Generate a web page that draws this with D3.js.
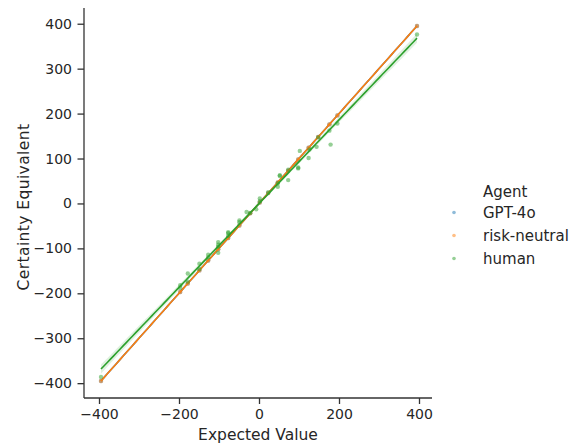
<!DOCTYPE html>
<html>
<head>
<meta charset="utf-8">
<script src="https://cdn.jsdelivr.net/npm/d3@7"></script>
<style>
  body { margin: 0; background: #fff; }
  svg text { font-family: "DejaVu Sans", sans-serif; fill: #262626; }
</style>
</head>
<body>
<div id="chart"></div>
<script>
// expected value levels of the lotteries
const evLevels = [-395, -197, -178, -149, -127, -102, -77, -49, -22, 2, 23, 47, 73, 98, 124, 148, 176, 196, 395];
// GPT-4o and risk-neutral certainty equivalents (sit on the diagonal)
const gpt4o = [-395, -197, -178, -149, -127, -102, -77, -49, -22, 2, 23, 47, 73, 98, 124, 148, 176, 196, 395];
const riskNeutral = [-395, -197, -178, -149, -127, -102, -77, -49, -22, 2, 23, 47, 73, 98, 124, 148, 176, 196, 395];
// human answers
const humanEV = [-395, -197, -197, -178, -178, -149, -149, -127, -127, -102, -102, -102, -102, -77, -77, -77, -49, -49, -31, -22, -7, 2, 2, 23, 47, 47, 52, 52, 73, 73, 98, 98, 102, 124, 126, 144, 148, 176, 179, 196, 395];
const humanCE = [-386, -188, -182, -156, -174, -134, -146, -114, -120, -86, -92, -110, -96, -64, -66, -72, -38, -42, -19, -21, -13, 11, 5, 25, 37, 45, 61, 63, 52, 75, 78, 80, 117, 101, 120, 126, 147, 162, 131, 178, 376];

const agents = ["GPT-4o", "risk-neutral", "human"];
const colors = ["#1f77b4", "#ff7f0e", "#2ca02c"];
const xTicks = [-400, -200, 0, 200, 400];
const yTicks = [-400, -300, -200, -100, 0, 100, 200, 300, 400];

const width = 580, height = 446;
const svg = d3.select("#chart").append("svg")
    .attr("width", width).attr("height", height);

const x = d3.scaleLinear().domain([-437.5, 432.5]).range([84, 432]);
const y = d3.scaleLinear().domain([-433, 435]).range([398, 8]);

//build series
const series = [
    {name: agents[0], color: colors[0], pts: evLevels.map((e, i) => [e, gpt4o[i]])},
    {name: agents[1], color: colors[1], pts: evLevels.map((e, i) => [e, riskNeutral[i]])},
    {name: agents[2], color: colors[2], pts: humanEV.map((e, i) => [e, humanCE[i]])}
];

// least squares fit plus 95% band
function fit(pts){
    const n = pts.length;
    const mx = d3.mean(pts, d => d[0]), my = d3.mean(pts, d => d[1]);
    let sxx = 0, sxy = 0;
    pts.forEach(d => { sxx += (d[0]-mx)**2; sxy += (d[0]-mx)*(d[1]-my); });
    const b = sxy / sxx, a = my - b * mx;
    let sse = 0;
    pts.forEach(d => { sse += (d[1] - (a + b*d[0]))**2; });
    const s = Math.sqrt(sse / (n - 2));
    const lo = d3.min(pts, d => d[0]), hi = d3.max(pts, d => d[0]);
    const xs = d3.range(0, 101).map(k => lo + k * (hi - lo) / 100);
    return xs.map(v => {
        const yh = a + b * v;
        const se = s * Math.sqrt(1/n + (v-mx)**2 / sxx);
        return {x: v, y: yh, lo: yh - 2.02*se, hi: yh + 2.02*se};
    });
}

const plot = svg.append("g");
series.forEach(s => {
    plot.append("g").selectAll("circle")
        .data(s.pts).join("circle")
        .attr("cx", d => x(d[0]))
        .attr("cy", d => y(d[1]))
        .attr("r", 2.2)
        .style("fill", s.color)
        .style("opacity", 0.5);

    const f = fit(s.pts);
    plot.append("path")
        .datum(f)
        .attr("d", d3.area().x(d => x(d.x)).y0(d => y(d.lo)).y1(d => y(d.hi)))
        .style("fill", s.color)
        .style("opacity", 0.15);
    plot.append("path")
        .datum(f)
        .attr("d", d3.line().x(d => x(d.x)).y(d => y(d.y)))
        .style("fill", "none")
        .style("stroke", s.color)
        .style("stroke-width", 1.6);
});

// axes
const fmt = d => d < 0 ? "\u2212" + Math.abs(d) : d;
const xAxis = svg.append("g")
    .attr("transform", "translate(0,398)")
    .call(d3.axisBottom(x).tickValues(xTicks).tickSize(6).tickPadding(5).tickFormat(fmt));
const yAxis = svg.append("g")
    .attr("transform", "translate(84,0)")
    .call(d3.axisLeft(y).tickValues(yTicks).tickSize(6.5).tickPadding(5.5).tickFormat(fmt));
[xAxis, yAxis].forEach(ax => {
    ax.select(".domain").style("stroke", "#333").style("stroke-width", 1.3);
    ax.selectAll(".tick line").style("stroke", "#333").style("stroke-width", 1.3);
    ax.selectAll(".tick text").style("font-size", "14px").style("fill", "#262626");
});
xAxis.select(".domain").attr("d", "M84,0H432");
yAxis.select(".domain").attr("d", "M0,8V398");

svg.append("text")
    .attr("x", 258).attr("y", 440)
    .attr("text-anchor", "middle")
    .style("font-size", "15.5px")
    .text("Expected Value");
svg.append("text")
    .attr("transform", "translate(28.5,207) rotate(-90)")
    .attr("text-anchor", "middle")
    .style("font-size", "15.5px")
    .style("letter-spacing", "0.4px")
    .text("Certainty Equivalent");

// legend
const legend = svg.append("g");
legend.append("text")
    .attr("x", 483).attr("y", 197)
    .style("font-size", "15px")
    .text("Agent");
agents.forEach((a, i) => {
    const row = legend.append("g").attr("transform", `translate(0,${212.5 + i*23})`);
    row.append("circle")
        .attr("cx", 454).attr("cy", 0).attr("r", 1.8)
        .style("fill", colors[i]).style("opacity", 0.5);
    row.append("text")
        .attr("x", 483).attr("y", 5)
        .style("font-size", "15px")
        .text(a);
});
</script>
</body>
</html>
